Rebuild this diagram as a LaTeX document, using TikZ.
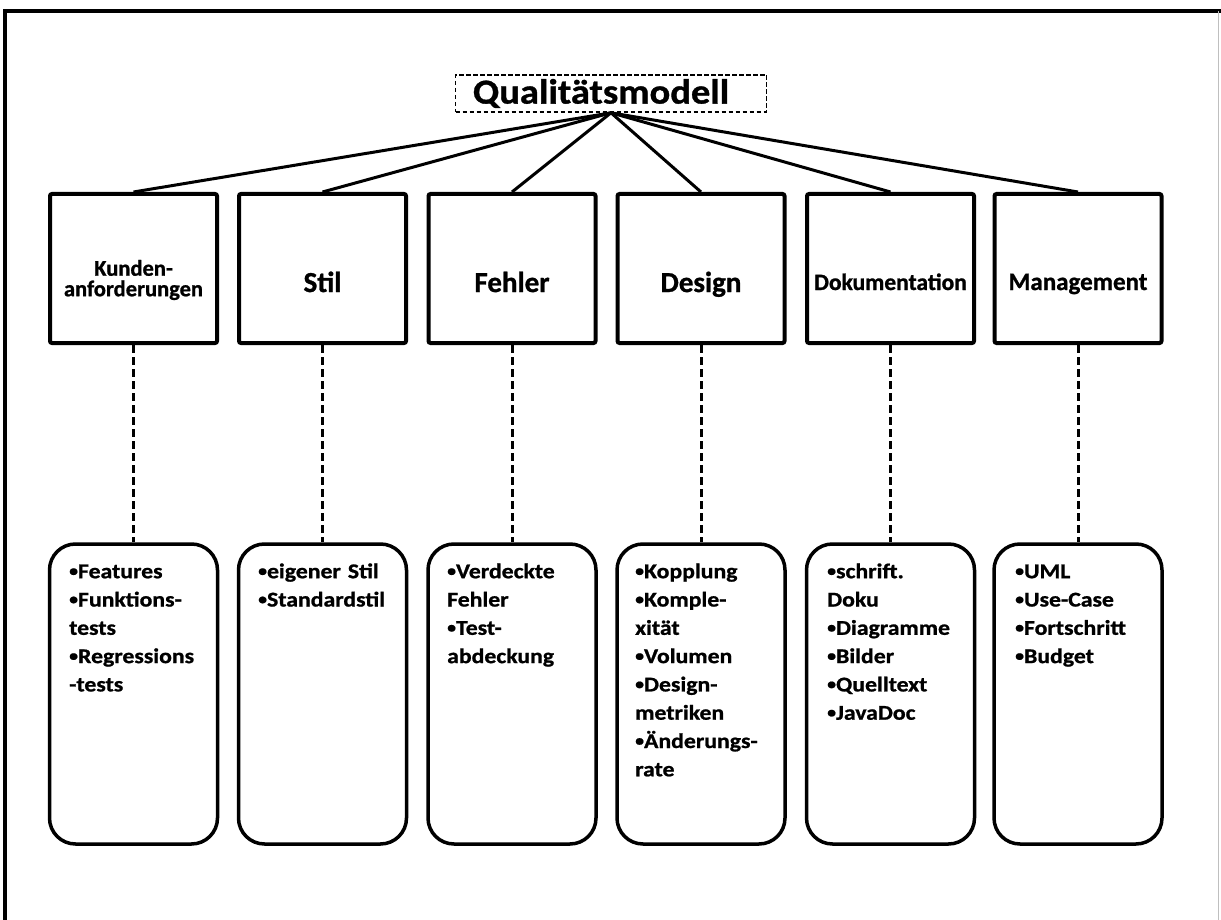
\documentclass[tikz,border=0pt]{standalone}
\usepackage{fontspec}
\usepackage{graphicx}
\setmainfont{Carlito}
\newfontfamily\itemfont{Carlito}[FakeStretch=1.13, FakeBold=1]
\newfontfamily\lblfont{Carlito}[FakeBold=1]
\newfontfamily\titlefont{Carlito}[FakeStretch=1.1, FakeBold=1]
\newcommand\blt{\raisebox{0.1em}{\scalebox{0.75}{•}}}
\newcommand\fst{\rule{0pt}{16pt}}
\begin{document}
\begin{tikzpicture}[x=1pt,y=-1pt,
  topbox/.style={draw, line width=4pt, rounded corners=2pt, minimum width=167pt, minimum height=149pt, inner sep=0pt},
  botbox/.style={draw, line width=3.5pt, rounded corners=26pt, minimum width=168pt, minimum height=300pt, inner sep=0pt},
  toplabel/.style={font=\lblfont\bfseries\fontsize{29}{30}\selectfont, align=center, inner sep=0pt, anchor=base},
  itemtext/.style={font=\itemfont\bfseries\fontsize{21}{28.3}\selectfont, text width=148pt, align=left, anchor=north west, inner sep=0pt},
  fan/.style={line width=3pt},
  drop/.style={line width=3pt, dash pattern=on 8pt off 4pt}
]
\useasboundingbox (0,0) rectangle (1221,920);
\fill[white] (0,0) rectangle (1221,920);
% frame
\draw[line width=4pt] (5,920) -- (5,11) -- (1221,11);
\draw[black!25, line width=1pt] (1218.5,11) -- (1218.5,920);

% title
\node[draw, line width=1.6pt, dash pattern=on 4.5pt off 2.5pt, minimum width=311pt, minimum height=37pt,
      font=\titlefont\bfseries\fontsize{35}{37}\selectfont, inner sep=0pt] (title) at (611,93.5) {\hspace*{-20pt}Qualitätsmodell};

% upper boxes
\node[topbox] (b1) at (133.5,268.5) {};
\node[topbox] (b2) at (322.5,268.5) {};
\node[topbox] (b3) at (512,268.5) {};
\node[topbox] (b4) at (701,268.5) {};
\node[topbox] (b5) at (890.5,268.5) {};
\node[topbox] (b6) at (1078,268.5) {};

\node[toplabel, anchor=center, font=\lblfont\bfseries\fontsize{22.5}{20.5}\selectfont] (t1) at (133.5,280) {Kunden-\\anforderungen};
\node[toplabel] (t2) at (322.5,292) {Stil};
\node[toplabel] (t3) at (512,292) {Fehler};
\node[toplabel] (t4) at (701,292) {Design};
\node[toplabel, font=\lblfont\bfseries\fontsize{23.5}{24}\selectfont] (t5) at (890.5,290) {Dokumentation};
\node[toplabel, font=\lblfont\bfseries\fontsize{25}{26}\selectfont] (t6) at (1078,290) {Management};

% lower boxes
\node[botbox] (l1) at (133.5,694) {};
\node[botbox] (l2) at (322.5,694) {};
\node[botbox] (l3) at (512,694) {};
\node[botbox] (l4) at (701,694) {};
\node[botbox] (l5) at (890.5,694) {};
\node[botbox] (l6) at (1078,694) {};

\node[itemtext] (i1) at (69,562) {\fst\blt Features\\\blt Funktions-\\tests\\\blt Regressions\\-tests};
\node[itemtext] (i2) at (258,562) {\fst\blt eigener Stil\\\blt Standardstil};
\node[itemtext] (i3) at (447,562) {\fst\blt Verdeckte\\Fehler\\\blt Test-\\abdeckung};
\node[itemtext] (i4) at (635,562) {\fst\blt Kopplung\\\blt Komple-\\xität\\\blt Volumen\\\blt Design-\\metriken\\\blt Änderungs-\\rate};
\node[itemtext] (i5) at (827,562) {\fst\blt schrift.\\Doku\\\blt Diagramme\\\blt Bilder\\\blt Quelltext\\\blt JavaDoc};
\node[itemtext] (i6) at (1015,562) {\fst\blt UML\\\blt Use-Case\\\blt Fortschritt\\\blt Budget};

% connectors
\foreach \i in {1,...,6} {
  \draw[fan] (title.south) -- (b\i.north);
  \draw[drop] (b\i.south) -- (l\i.north);
}
\end{tikzpicture}
\end{document}
